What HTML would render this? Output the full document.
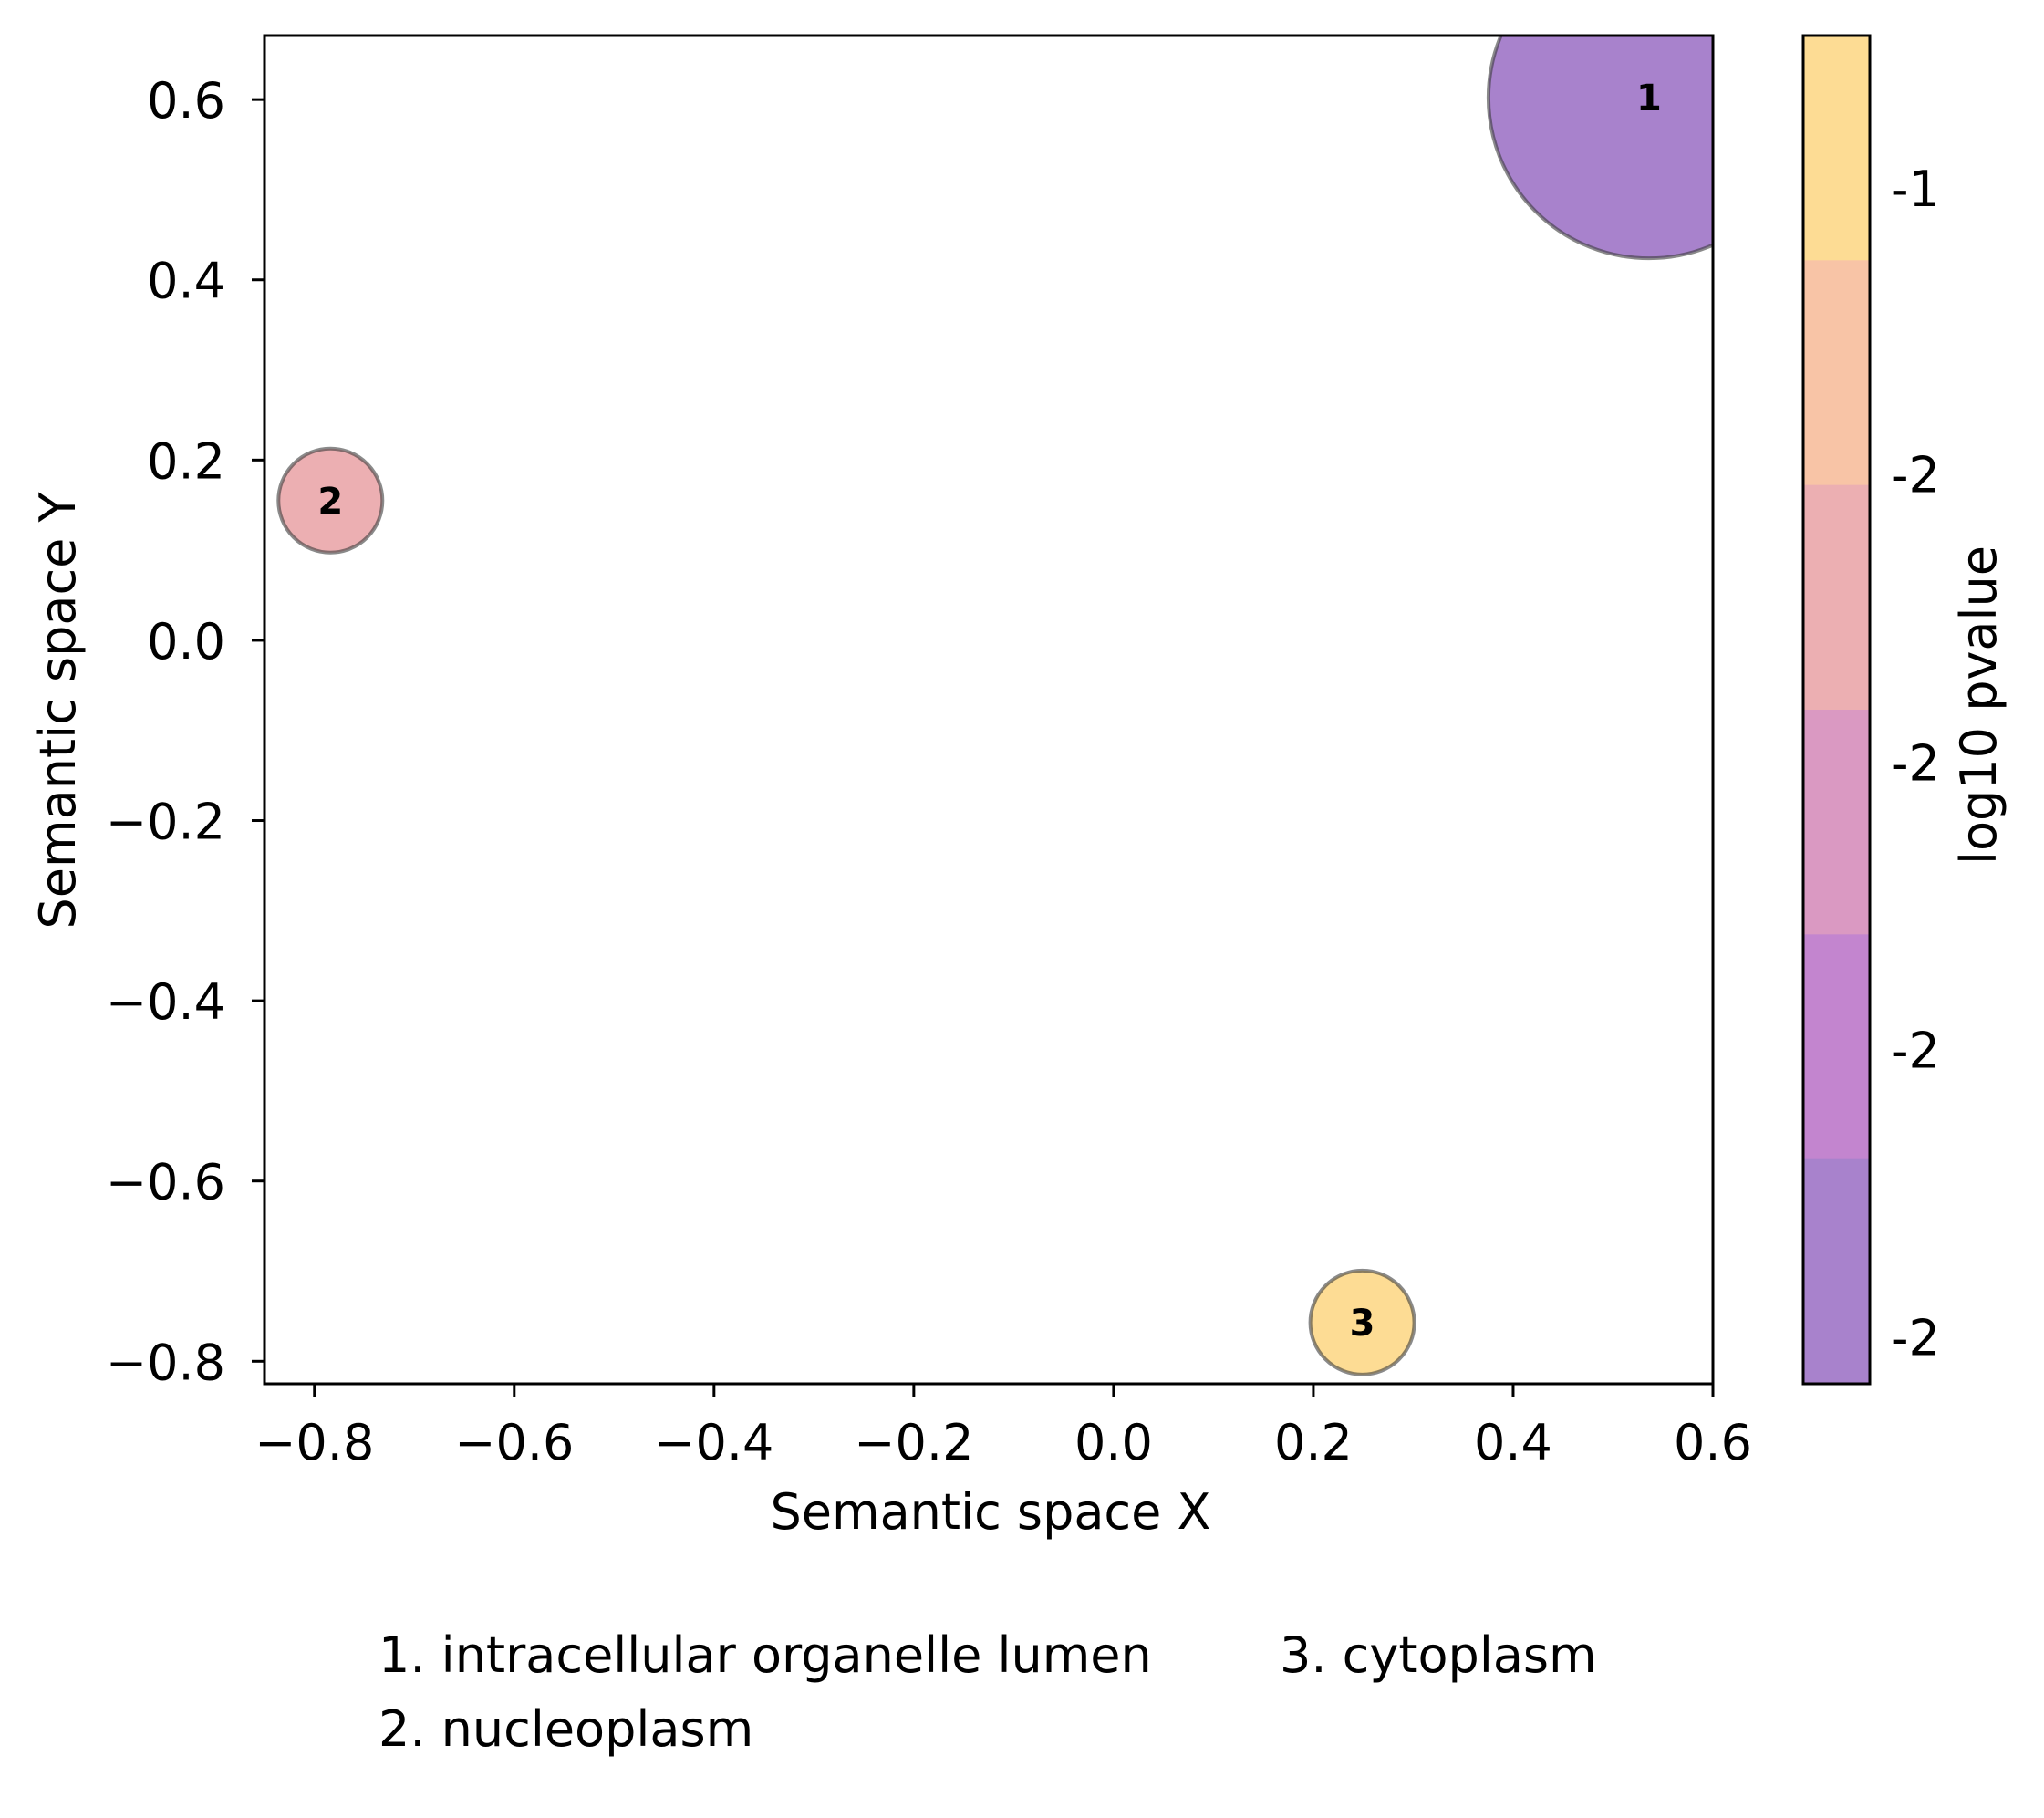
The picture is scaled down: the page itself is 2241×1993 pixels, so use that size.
<!DOCTYPE html>
<html><head><meta charset="utf-8"><style>
html,body{margin:0;padding:0;background:#fff;}
svg text{font-family:"DejaVu Sans","Liberation Sans",sans-serif;}
</style></head><body>
<svg id="chart" width="2241" height="1988" viewBox="0 0 2241 1988" xmlns="http://www.w3.org/2000/svg">
<rect x="0" y="0" width="2241" height="1988" fill="#fff"/>
<g id="plot"></g>
<g id="axes"></g>
<g id="cbar"></g>
<text x="82" y="779" font-size="54" text-anchor="middle" transform="rotate(-90 82 779)">Semantic space Y</text>
<text x="1086" y="1676" font-size="54" text-anchor="middle">Semantic space X</text>
<text x="2188" y="773" font-size="54" text-anchor="middle" transform="rotate(-90 2188 773)">log10 pvalue</text>
<text x="415" y="1833" font-size="54">1. intracellular organelle lumen</text>
<text x="415" y="1914" font-size="54">2. nucleoplasm</text>
<text x="1403" y="1833" font-size="54">3. cytoplasm</text>
</svg>
<script>
const labels = ["1","2","3"];
const xValues = [0.536, -0.784, 0.249];
const yValues = [0.602, 0.155, -0.757];
const radii = [176, 57, 57];
const colors = ["#a882cc","#ecafb2","#fddc94"];
const xTicks = [-0.8,-0.6,-0.4,-0.2,0.0,0.2,0.4,0.6];
const yTicks = [-0.8,-0.6,-0.4,-0.2,0.0,0.2,0.4,0.6];
const cbarColors = ["#fddc94","#f8c4a6","#ecafb2","#da99c2","#c385cf","#a882cc"];
const cbarTickLabels = ["-1","-2","-2","-2","-2"];
const cbarTickFrac = [0.113, 0.325, 0.539, 0.752, 0.965];

const NS="http://www.w3.org/2000/svg";
const L=290,R=1878,T=39,B=1517;
const xMin=-0.850, xMax=0.6, yMin=-0.825, yMax=0.671;
function sx(v){return L+(v-xMin)/(xMax-xMin)*(R-L);}
function sy(v){return B-(v-yMin)/(yMax-yMin)*(B-T);}
function mk(tag,attrs,parent){const e=document.createElementNS(NS,tag);for(const k in attrs)e.setAttribute(k,attrs[k]);parent.appendChild(e);return e;}
function fmt(v){const s=Math.abs(v).toFixed(1);return (v<-1e-9?"\u2212":"")+s;}

const svg=document.getElementById('chart');
const plot=document.getElementById('plot');
const defs=mk('defs',{},svg);
const cp=mk('clipPath',{id:'clip'},defs);
mk('rect',{x:L,y:T,width:R-L,height:B-T},cp);
plot.setAttribute('clip-path','url(#clip)');

for(let i=0;i<labels.length;i++){
  const cx=sx(xValues[i]), cy=sy(yValues[i]);
  const c=mk('circle',{cx:cx,cy:cy,r:radii[i],fill:colors[i],stroke:'rgba(60,60,60,0.6)','stroke-width':4},plot);
  
  
  const t=mk('text',{x:cx,y:cy+14,'font-size':40,'font-weight':'bold','text-anchor':'middle'},plot);
  t.textContent=labels[i];
  
  
}

const axes=document.getElementById('axes');
const frame=mk('rect',{x:L,y:T,width:R-L,height:B-T,fill:'none',stroke:'#000','stroke-width':3},axes);


xTicks.forEach(v=>{
  const x=sx(v);
  const tk=mk('line',{x1:x,y1:B,x2:x,y2:B+14,stroke:'#000','stroke-width':3},axes);
  
  
  const t=mk('text',{x:x,y:1600,'font-size':54,'text-anchor':'middle'},axes);
  t.textContent=fmt(v);
  
  
});
yTicks.forEach(v=>{
  const y=sy(v);
  const tk=mk('line',{x1:L-14,y1:y,x2:L,y2:y,stroke:'#000','stroke-width':3},axes);
  
  
  const t=mk('text',{x:247,y:y+20,'font-size':54,'text-anchor':'end'},axes);
  t.textContent=fmt(v);
  
  
});

const cbar=document.getElementById('cbar');
const CL=1977,CR=2050,CT=39,CB=1517;
const bh=(CB-CT)/cbarColors.length;
cbarColors.forEach((col,i)=>{
  const r=mk('rect',{x:CL,y:CT+i*bh,width:CR-CL,height:bh+0.5,fill:col},cbar);
  
  
});
const cf=mk('rect',{x:CL,y:CT,width:CR-CL,height:CB-CT,fill:'none',stroke:'#000','stroke-width':3},cbar);


cbarTickLabels.forEach((lab,i)=>{
  const y=CT+cbarTickFrac[i]*(CB-CT);
  const t=mk('text',{x:2073,y:y+20,'font-size':54},cbar);
  t.textContent=lab;
  
  
});
</script>
</body></html>
